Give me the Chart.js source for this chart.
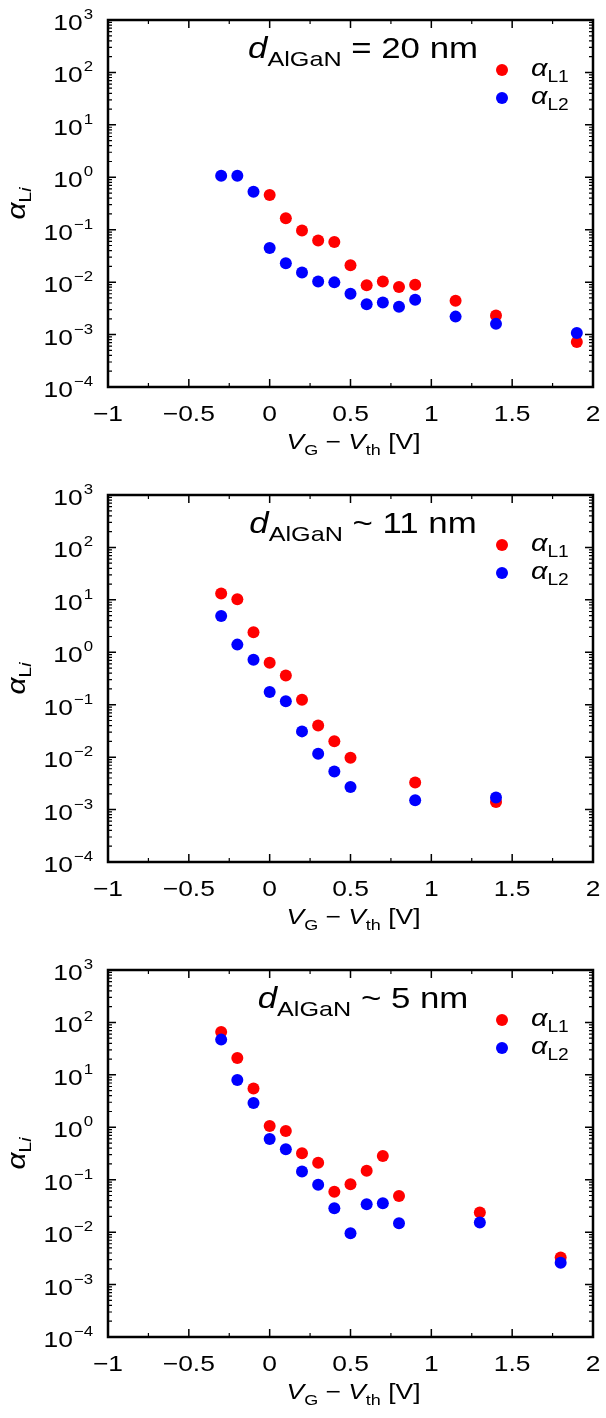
<!DOCTYPE html>
<html>
<head>
<meta charset="utf-8">
<script src="https://cdn.jsdelivr.net/npm/chart.js@4.4.1/dist/chart.umd.min.js"></script>
<style>
  html, body { margin: 0; padding: 0; background: #fff; }
  #wrap { position: relative; width: 606px; height: 1418px; }
  canvas { position: absolute; left: 0; }
</style>
</head>
<body>
<div id="wrap">
  <canvas id="c20" width="606" height="468" style="top:0px"></canvas>
  <canvas id="c11" width="606" height="468" style="top:475px"></canvas>
  <canvas id="c5" width="606" height="468" style="top:950px"></canvas>
</div>
<script>
// d_AlGaN = 20 nm
const xL1_20 = [0, 0.1, 0.2, 0.3, 0.4, 0.5, 0.6, 0.7, 0.8, 0.9, 1.15, 1.4, 1.9];
const aL1_20 = [0.46, 0.166, 0.097, 0.062, 0.058, 0.021, 0.0087, 0.0103, 0.0081, 0.0089, 0.0044, 0.0023, 0.00072];
const xL2_20 = [-0.3, -0.2, -0.1, 0, 0.1, 0.2, 0.3, 0.4, 0.5, 0.6, 0.7, 0.8, 0.9, 1.15, 1.4, 1.9];
const aL2_20 = [1.07, 1.07, 0.53, 0.045, 0.023, 0.0153, 0.0103, 0.0099, 0.006, 0.0038, 0.0041, 0.0034, 0.0046, 0.0022, 0.0016, 0.00107];

// d_AlGaN ~ 11 nm
const x_11 = [-0.3, -0.2, -0.1, 0, 0.1, 0.2, 0.3, 0.4, 0.5, 0.9, 1.4];
const aL1_11 = [13.2, 10.3, 2.4, 0.63, 0.36, 0.125, 0.040, 0.020, 0.0097, 0.0033, 0.0014];
const aL2_11 = [4.9, 1.4, 0.72, 0.175, 0.116, 0.031, 0.0116, 0.0053, 0.0027, 0.0015, 0.0017];

// d_AlGaN ~ 5 nm
const x_5 = [-0.3, -0.2, -0.1, 0, 0.1, 0.2, 0.3, 0.4, 0.5, 0.6, 0.7, 0.8, 1.3, 1.8];
const aL1_5 = [66, 21, 5.5, 1.06, 0.85, 0.32, 0.21, 0.059, 0.082, 0.149, 0.284, 0.049, 0.0236, 0.0033];
const aL2_5 = [47, 8.0, 2.9, 0.6, 0.38, 0.143, 0.080, 0.0286, 0.0095, 0.034, 0.0356, 0.0148, 0.0152, 0.0026];

const xTicks = [-1, -0.5, 0, 0.5, 1, 1.5, 2];
const xTickLabels = ['\u22121', '\u22120.5', '0', '0.5', '1', '1.5', '2'];
const yExponents = [-4, -3, -2, -1, 0, 1, 2, 3];

const RED = '#ff0000', BLUE = '#0000ff';
const FONT = "'Liberation Sans', Arial, sans-serif";
const SX = 1.2; // text in the source figure is a bit wider than tall

const zip = (xs, ys) => xs.map((x, i) => ({ x: x, y: ys[i] }));

function richWidth(ctx, segs) {
  let w = 0;
  segs.forEach(s => {
    ctx.font = (s.it ? 'italic ' : '') + s.f + 'px ' + FONT;
    w += ctx.measureText(s.t).width;
  });
  return w * SX;
}

function drawRich(ctx, segs, x, y, align) {
  const w = richWidth(ctx, segs);
  let x0 = x;
  if (align === 'center') x0 = x - w / 2;
  else if (align === 'right') x0 = x - w;
  ctx.save();
  ctx.translate(x0, y);
  ctx.scale(SX, 1);
  ctx.fillStyle = '#000';
  ctx.textBaseline = 'alphabetic';
  ctx.textAlign = 'left';
  let cx = 0;
  segs.forEach(s => {
    ctx.font = (s.it ? 'italic ' : '') + s.f + 'px ' + FONT;
    ctx.fillText(s.t, cx, s.dy || 0);
    cx += ctx.measureText(s.t).width;
  });
  ctx.restore();
}

const decor = {
  id: 'decor',
  afterDraw(chart, args, opts) {
    const ctx = chart.ctx;
    const ca = chart.chartArea;
    const xs = chart.scales.x, ys = chart.scales.y;
    ctx.save();
    ctx.strokeStyle = '#000';

    // inside ticks, mirrored
    ctx.lineWidth = 1.2;
    ctx.beginPath();
    for (let e = -4; e < 3; e++) {
      for (let k = 2; k <= 9; k++) {
        const y = ys.getPixelForValue(k * Math.pow(10, e));
        ctx.moveTo(ca.left, y); ctx.lineTo(ca.left + 4, y);
        ctx.moveTo(ca.right, y); ctx.lineTo(ca.right - 4, y);
      }
    }
    for (let v = -0.75; v < 2; v += 0.5) {
      const x = xs.getPixelForValue(v);
      ctx.moveTo(x, ca.bottom); ctx.lineTo(x, ca.bottom - 4);
      ctx.moveTo(x, ca.top); ctx.lineTo(x, ca.top + 4);
    }
    ctx.stroke();
    ctx.lineWidth = 1.5;
    ctx.beginPath();
    yExponents.forEach(e => {
      const y = ys.getPixelForValue(Math.pow(10, e));
      ctx.moveTo(ca.left, y); ctx.lineTo(ca.left + 8, y);
      ctx.moveTo(ca.right, y); ctx.lineTo(ca.right - 8, y);
    });
    xTicks.forEach(v => {
      const x = xs.getPixelForValue(v);
      ctx.moveTo(x, ca.bottom); ctx.lineTo(x, ca.bottom - 8);
      ctx.moveTo(x, ca.top); ctx.lineTo(x, ca.top + 8);
    });
    ctx.stroke();

    // frame
    ctx.lineWidth = 2.5;
    ctx.strokeRect(ca.left, ca.top, ca.right - ca.left, ca.bottom - ca.top);

    // y tick labels 10^n, right-justified as a whole
    yExponents.forEach(e => {
      const y = ys.getPixelForValue(Math.pow(10, e));
      const ex = e < 0 ? '\u2212' + (-e) : String(e);
      const exSeg = [{ t: ex, f: 14 }];
      const exW = richWidth(ctx, exSeg);
      const xr = ca.left - 15;
      drawRich(ctx, exSeg, xr - exW, y - 1, 'left');
      drawRich(ctx, [{ t: '10', f: 22 }], xr - exW - 1, y + 10, 'right');
    });

    // x tick labels
    xTicks.forEach((v, i) => {
      drawRich(ctx, [{ t: xTickLabels[i], f: 22 }], xs.getPixelForValue(v), ca.bottom + 34, 'center');
    });

    // axis titles
    drawRich(ctx, [
      { t: 'V', f: 22, it: true }, { t: 'G', f: 15, dy: 6 },
      { t: ' \u2212 ', f: 22 },
      { t: 'V', f: 22, it: true }, { t: 'th', f: 15, dy: 6 },
      { t: ' [V]', f: 22 }
    ], (ca.left + ca.right) / 2 + 3, ca.bottom + 62, 'center');

    ctx.save();
    ctx.translate(25, (ca.top + ca.bottom) / 2);
    ctx.rotate(-Math.PI / 2);
    drawRich(ctx, [{ t: '\u03b1', f: 25, it: true }, { t: 'L', f: 16, dy: 6 }, { t: 'i', f: 16, it: true, dy: 6 }], 0, 0, 'center');
    ctx.restore();

    // panel title
    drawRich(ctx, [
      { t: 'd', f: 29, it: true },
      { t: 'AlGaN', f: 21, dy: 8 },
      { t: opts.rest, f: 29 }
    ], ca.left + 255, ca.top + 38, 'center');

    // legend
    const lx = ca.right - 91;
    [[RED, '1', 50], [BLUE, '2', 78]].forEach(([col, n, dy]) => {
      ctx.fillStyle = col;
      ctx.beginPath();
      ctx.arc(lx, ca.top + dy, 6, 0, Math.PI * 2);
      ctx.fill();
      drawRich(ctx, [{ t: '\u03b1', f: 24, it: true }, { t: 'L' + n, f: 16, dy: 6 }], lx + 29, ca.top + dy + 6, 'left');
    });
    ctx.restore();
  }
};

function makePanel(id, rest, l1x, l1y, l2x, l2y) {
  return new Chart(document.getElementById(id), {
    type: 'scatter',
    data: {
      datasets: [
        { label: 'L1', data: zip(l1x, l1y), backgroundColor: RED, borderWidth: 0, pointRadius: 6, order: 2 },
        { label: 'L2', data: zip(l2x, l2y), backgroundColor: BLUE, borderWidth: 0, pointRadius: 6, order: 1 }
      ]
    },
    options: {
      responsive: false,
      animation: false,
      events: [],
      layout: { padding: { top: 20, right: 13, left: 0, bottom: 0 } },
      plugins: { legend: { display: false }, tooltip: { enabled: false }, decor: { rest: rest } },
      scales: {
        x: {
          type: 'linear', min: -1, max: 2,
          grid: { display: false }, border: { display: false }, ticks: { display: false },
          afterFit(s) { s.height = 81; }
        },
        y: {
          type: 'logarithmic', min: 1e-4, max: 1e3,
          grid: { display: false }, border: { display: false }, ticks: { display: false },
          afterFit(s) { s.width = 108; }
        }
      }
    },
    plugins: [decor]
  });
}

makePanel('c20', ' = 20 nm', xL1_20, aL1_20, xL2_20, aL2_20);
makePanel('c11', ' ~ 11 nm', x_11, aL1_11, x_11, aL2_11);
makePanel('c5', ' ~ 5 nm', x_5, aL1_5, x_5, aL2_5);
</script>
</body>
</html>
